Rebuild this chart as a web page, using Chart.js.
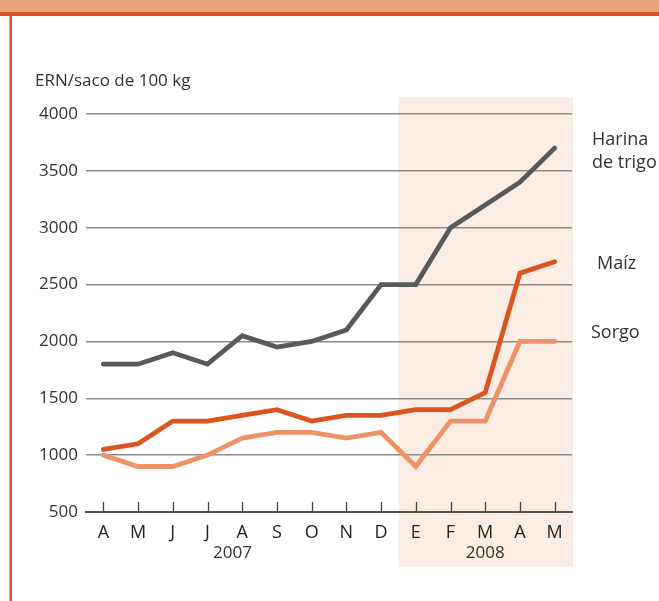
<!DOCTYPE html>
<html>
<head>
<meta charset="utf-8">
<script src="https://cdn.jsdelivr.net/npm/chart.js@4.4.1/dist/chart.umd.min.js"></script>
<style>
  html, body { margin: 0; padding: 0; background: #ffffff; }
  #wrap { position: relative; width: 659px; height: 601px; }
  canvas { display: block; }
</style>
</head>
<body>
<div id="wrap"><canvas id="c" width="659" height="601"></canvas></div>
<script>
const months = ["A", "M", "J", "J", "A", "S", "O", "N", "D", "E", "F", "M", "A", "M"];
const harina = [1800, 1800, 1900, 1800, 2050, 1950, 2000, 2100, 2500, 2500, 3000, 3200, 3400, 3700];
const maiz   = [1050, 1100, 1300, 1300, 1350, 1400, 1300, 1350, 1350, 1400, 1400, 1550, 2600, 2700];
const sorgo  = [1000, 900, 900, 1000, 1150, 1200, 1200, 1150, 1200, 900, 1300, 1300, 2000, 2000];
const yTicks = [500, 1000, 1500, 2000, 2500, 3000, 3500, 4000];
const years = [{ label: "2007", at: 3.72 }, { label: "2008", at: 11 }];
const shadeStartIndex = 8.5;
const unitLabel = "ERN/saco de 100 kg";
const seriesLabels = [
  { lines: ["Harina", "de trigo"], x: 592, y: 140 },
  { lines: ["Maíz"], x: 597, y: 264 },
  { lines: ["Sorgo"], x: 591, y: 333 }
];

const FONT = "'Open Sans', 'Noto Sans', sans-serif";
const TEXT = "#333333";

const framePlugin = {
  id: "frame",
  beforeDraw(chart) {
    const ctx = chart.ctx;
    const xs = chart.scales.x, ca = chart.chartArea;
    ctx.save();
    // page frame
    ctx.fillStyle = "#EEA47B";
    ctx.fillRect(0, 0, chart.width, 12);
    ctx.fillStyle = "#DC5520";
    ctx.fillRect(0, 12, chart.width, 4);
    ctx.fillRect(9.5, 12, 2.5, chart.height - 12);
    // 2008 shading
    const sx = xs.getPixelForValue(shadeStartIndex);
    ctx.fillStyle = "#FBEDE3";
    ctx.fillRect(sx, ca.top - 17, ca.right - sx + 1, ca.bottom - ca.top + 17 + 55);
    // unit label
    ctx.fillStyle = TEXT;
    ctx.font = "17px " + FONT;
    ctx.textAlign = "left";
    ctx.textBaseline = "middle";
    ctx.fillText(unitLabel, 35, 81);
    ctx.restore();
  },
  afterDatasetsDraw(chart) {
    const ctx = chart.ctx;
    const xs = chart.scales.x, ca = chart.chartArea;
    ctx.save();
    // tick marks above axis
    ctx.strokeStyle = "#444444";
    ctx.lineWidth = 1.3;
    for (let i = 0; i < months.length; i++) {
      const px = Math.round(xs.getPixelForValue(i)) + 0.5;
      ctx.beginPath();
      ctx.moveTo(px, ca.bottom);
      ctx.lineTo(px, ca.bottom - 10);
      ctx.stroke();
    }
    // year labels
    ctx.fillStyle = TEXT;
    ctx.font = "17px " + FONT;
    ctx.textAlign = "center";
    ctx.textBaseline = "middle";
    years.forEach(y => ctx.fillText(y.label, xs.getPixelForValue(y.at), ca.bottom + 41));
    // series labels
    ctx.font = "18px " + FONT;
    ctx.textAlign = "left";
    seriesLabels.forEach(s => {
      s.lines.forEach((ln, k) => ctx.fillText(ln, s.x, s.y + k * 23));
    });
    ctx.restore();
  }
};

const ds = (label, data, color) => ({
  label, data,
  borderColor: color,
  backgroundColor: color,
  borderWidth: 4.8,
  pointRadius: 0,
  tension: 0,
  borderCapStyle: "round",
  borderJoinStyle: "miter",
  fill: false
});

new Chart(document.getElementById("c"), {
  type: "line",
  data: {
    labels: months,
    datasets: [
      ds("Harina de trigo", harina, "#58595B"),
      ds("Maíz", maiz, "#DC5520"),
      ds("Sorgo", sorgo, "#EE9367")
    ]
  },
  options: {
    responsive: false,
    animation: false,
    events: [],
    layout: { padding: { left: 0, top: 114, right: 87, bottom: 49 } },
    plugins: { legend: { display: false }, tooltip: { enabled: false }, title: { display: false } },
    scales: {
      x: {
        type: "category",
        offset: true,
        grid: { display: false, drawTicks: false },
        border: { display: true, color: "#555555", width: 2 },
        ticks: { color: "#222222", font: { family: FONT, size: 18 }, padding: 10, maxRotation: 0, autoSkip: false },
        afterFit(scale) { scale.height = 40; }
      },
      y: {
        min: 500, max: 4000,
        afterBuildTicks(scale) { scale.ticks = yTicks.map(v => ({ value: v })); },
        grid: { color: "#8C8C8C", lineWidth: 1.5, drawTicks: false },
        border: { display: false },
        ticks: { color: TEXT, font: { family: FONT, size: 17 }, padding: 8, callback: v => String(v) },
        afterFit(scale) { scale.width = 86; }
      }
    }
  },
  plugins: [framePlugin]
});
</script>
</body>
</html>
